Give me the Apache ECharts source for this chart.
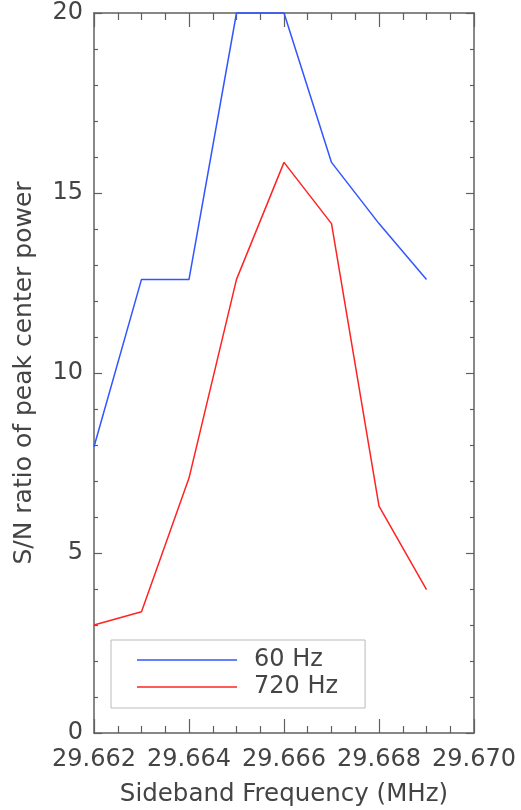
<!DOCTYPE html>
<html>
<head>
<meta charset="utf-8">
<script src="https://cdn.jsdelivr.net/npm/echarts@6/dist/echarts.min.js"></script>
<style>html,body{margin:0;padding:0;background:#fff;}#c{width:521px;height:810px;}</style>
</head>
<body>
<div id="c"></div>
<script>
const freqs = [29.662, 29.663, 29.664, 29.665, 29.666, 29.667, 29.668, 29.669];
const sn60 = [7.95, 12.6, 12.6, 20, 20, 15.85, 14.15, 12.6];
const sn720 = [3.0, 3.37, 7.08, 12.6, 15.85, 14.15, 6.3, 3.98];
const seriesNames = ['60 Hz', '720 Hz'];
const xTitle = 'Sideband Frequency (MHz)';
const yTitle = 'S/N ratio of peak center power';

const FONT = 'DejaVu Sans';
const TXT = '#444444';
const AX = '#606060';
const BLUE = 'rgb(50,85,255)';
const RED = 'rgb(255,35,35)';

const chart = echarts.init(document.getElementById('c'), null, {renderer: 'canvas'});
const pair = (xs, ys) => xs.map((x, i) => [x, ys[i]]);
const xBase = {
  type: 'value', min: 29.662, max: 29.670, interval: 0.002,
  axisLine: {show: true, onZero: false, lineStyle: {color: AX, width: 1.5}},
  axisTick: {show: true, inside: true, length: 14, lineStyle: {color: AX, width: 1.2}},
  minorTick: {show: true, splitNumber: 4, length: 7, lineStyle: {color: AX, width: 1.2}},
  splitLine: {show: false}, minorSplitLine: {show: false}
};
const yBase = {
  type: 'value', min: 0, max: 20, interval: 5,
  axisLine: {show: true, onZero: false, lineStyle: {color: AX, width: 1.5}},
  axisTick: {show: true, inside: true, length: 8, lineStyle: {color: AX, width: 1.2}},
  minorTick: {show: true, splitNumber: 5, length: 4, lineStyle: {color: AX, width: 1.2}},
  splitLine: {show: false}, minorSplitLine: {show: false}
};
chart.setOption({
  animation: false,
  backgroundColor: '#fff',
  grid: {left: 94, right: 47, top: 13, bottom: 77, containLabel: false, outerBoundsMode: 'none'},
  xAxis: [
    Object.assign({}, xBase, {
      position: 'bottom',
      axisLabel: {show: true, margin: 15, color: TXT, fontFamily: FONT, fontSize: 24,
        formatter: v => v.toFixed(3)},
      name: xTitle, nameLocation: 'middle', nameGap: 49,
      nameTextStyle: {color: TXT, fontFamily: FONT, fontSize: 24.5}
    }),
    Object.assign({}, xBase, {position: 'top', axisLabel: {show: false}})
  ],
  yAxis: [
    Object.assign({}, yBase, {
      position: 'left',
      axisLabel: {show: true, margin: 11, color: TXT, fontFamily: FONT, fontSize: 24},
      name: yTitle, nameLocation: 'middle', nameGap: 57, nameRotate: 90,
      nameTextStyle: {color: TXT, fontFamily: FONT, fontSize: 25}
    }),
    Object.assign({}, yBase, {position: 'right', axisLabel: {show: false}})
  ],
  legend: {
    show: true, orient: 'vertical', left: 111, top: 640,
    data: [
      {name: seriesNames[0], itemStyle: {color: BLUE}},
      {name: seriesNames[1], itemStyle: {color: RED}}
    ],
    backgroundColor: '#fff', borderColor: '#bbbbbb', borderWidth: 1,
    padding: [8, 27, 9, 26],
    itemWidth: 100, itemHeight: 1.5, itemGap: 3,
    icon: 'rect',
    textStyle: {color: TXT, fontFamily: FONT, fontSize: 24, padding: [0, 0, 0, 12]}
  },
  series: [
    {name: seriesNames[0], type: 'line', data: pair(freqs, sn60), showSymbol: false, symbol: 'none',
      lineStyle: {color: BLUE, width: 1.5}, itemStyle: {color: BLUE}, clip: false},
    {name: seriesNames[1], type: 'line', data: pair(freqs, sn720), showSymbol: false, symbol: 'none',
      lineStyle: {color: RED, width: 1.5}, itemStyle: {color: RED}, clip: false}
  ]
});
</script>
</body>
</html>
